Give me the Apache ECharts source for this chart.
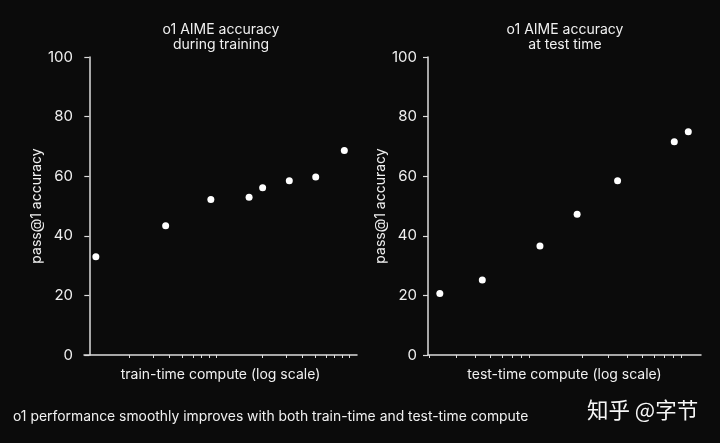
<!DOCTYPE html>
<html>
<head>
<meta charset="utf-8">
<script src="https://cdn.jsdelivr.net/npm/echarts@6/dist/echarts.min.js"></script>
<style>
html,body{margin:0;padding:0;background:#0b0b0b;}
#c{width:720px;height:443px;}
</style>
</head>
<body>
<div id="c"></div>
<script>
// Data (compute in relative units, log scale)
const trainCompute = [1.12, 3.75, 8.2, 15.9, 20.1, 31.9, 50.4, 82.7];
const trainAcc = [33.0, 43.4, 52.2, 52.9, 56.1, 58.5, 59.7, 68.6];
const testCompute = [2.33, 4.43, 10.6, 18.6, 34.3, 80.9, 100];
const testAcc = [20.6, 25.2, 36.6, 47.2, 58.5, 71.6, 74.9];
const minorTickValues = [2, 3, 4, 5, 6, 7, 8, 9, 20, 30, 40, 50, 60, 70, 80, 90];
const yTicks = [0, 20, 40, 60, 80, 100];

const FONT = 'Inter, "Noto Sans", sans-serif';
const TXT = '#f0f0f0';
const LINE = '#dcdcdc';
const lg = v => Math.log10(v);

function xAxis(gridIndex, min, max, name) {
  return {
    type: 'value', gridIndex, min: lg(min), max: lg(max),
    name, nameLocation: 'middle', nameGap: 13,
    nameTextStyle: {color: TXT, fontSize: 14, fontFamily: FONT},
    axisLine: {show: true, lineStyle: {color: LINE, width: 1.5}},
    axisTick: {show: true, length: 3, lineStyle: {color: LINE, width: 1},
      customValues: minorTickValues.map(lg)},
    axisLabel: {show: false},
    splitLine: {show: false}
  };
}
function yAxis(gridIndex) {
  return {
    type: 'value', gridIndex, min: 0, max: 100, interval: 20,
    name: 'pass@1 accuracy', nameLocation: 'middle', nameGap: 40, nameRotate: 90,
    nameTextStyle: {color: TXT, fontSize: 14, fontFamily: FONT},
    axisLine: {show: true, lineStyle: {color: LINE, width: 1.5}},
    axisTick: {show: true, length: 5, lineStyle: {color: LINE, width: 1.2}},
    axisLabel: {color: TXT, fontSize: 15, fontFamily: FONT, margin: 11,
      customValues: yTicks},
    splitLine: {show: false}
  };
}

const chart = echarts.init(document.getElementById('c'));
chart.setOption({
  backgroundColor: '#0b0b0b',
  animation: false,
  title: [
    {text: 'o1 AIME accuracy\nduring training', left: 221, top: 22, textAlign: 'center', padding: 0,
      textStyle: {color: TXT, fontSize: 14, fontWeight: 'normal', fontFamily: FONT, lineHeight: 15}},
    {text: 'o1 AIME accuracy\nat test time', left: 565, top: 22, textAlign: 'center', padding: 0,
      textStyle: {color: TXT, fontSize: 14, fontWeight: 'normal', fontFamily: FONT, lineHeight: 15}},
    {text: 'o1 performance smoothly improves with both train-time and test-time compute', left: 13, top: 410, padding: 0,
      textStyle: {color: TXT, fontSize: 13.9, fontWeight: 'normal', fontFamily: FONT}},
    {text: '知乎 @字节', left: 587, top: 399, padding: 0,
      textStyle: {color: '#f6f6f6', fontSize: 21.5, fontWeight: 'normal', fontFamily: '"Noto Sans CJK SC", sans-serif'}}
  ],
  grid: [
    {left: 84, right: 363, top: 57, bottom: 88, containLabel: false, outerBoundsMode: 'none'},
    {left: 428, right: 19, top: 57, bottom: 88, containLabel: false, outerBoundsMode: 'none'}
  ],
  xAxis: [
    xAxis(0, 0.912, 103, 'train-time compute (log scale)'),
    xAxis(1, 1.948, 121.2, 'test-time compute (log scale)')
  ],
  yAxis: [yAxis(0), yAxis(1)],
  series: [
    {type: 'scatter', xAxisIndex: 0, yAxisIndex: 0, symbolSize: 7,
      itemStyle: {color: '#ffffff', opacity: 1},
      data: trainCompute.map((c, i) => [lg(c), trainAcc[i]])},
    {type: 'scatter', xAxisIndex: 1, yAxisIndex: 1, symbolSize: 7,
      itemStyle: {color: '#ffffff', opacity: 1},
      data: testCompute.map((c, i) => [lg(c), testAcc[i]])}
  ]
});
</script>
</body>
</html>
